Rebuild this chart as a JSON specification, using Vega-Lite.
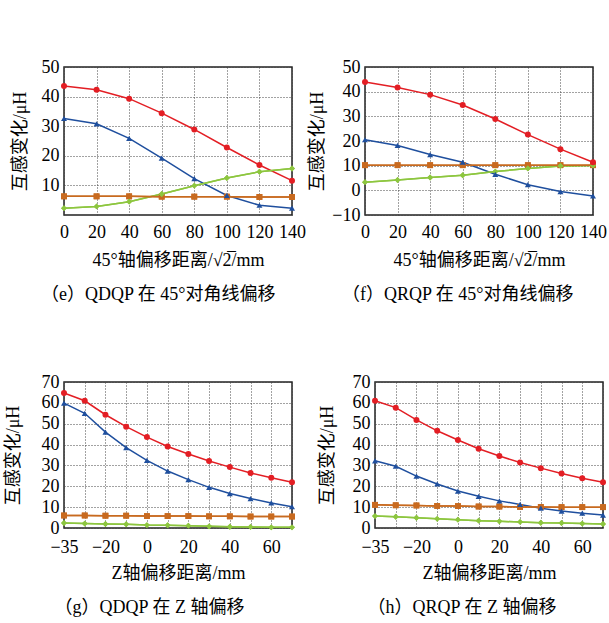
{
  "$schema": "https://vega.github.io/schema/vega-lite/v6.json",
  "background": "white",
  "padding": {"left": 3, "top": 57, "right": 0, "bottom": 0},
  "config": {
    "view": {"stroke": "#222", "strokeWidth": 1.5},
    "axis": {"labelFont": "Liberation Serif", "labelFontSize": 18, "labelColor": "#000", "titleFont": "Liberation Serif, Noto Sans CJK SC", "titleFontSize": 18, "titleFontWeight": "normal", "titleColor": "#000", "ticks": false, "domain": false, "gridColor": "#444", "gridDash": [1, 2], "gridOpacity": 1, "gridWidth": 1, "labelOverlap": false, "labelFlush": false},
    "axisX": {"labelPadding": 8, "titlePadding": 10},
    "axisY": {"labelPadding": 5},
    "title": {"font": "Liberation Serif, Noto Sans CJK SC", "fontSize": 18, "fontWeight": "normal", "color": "#000", "orient": "bottom", "anchor": "middle", "frame": "bounds", "offset": 17},
    "legend": {"columns": 3, "direction": "horizontal", "strokeColor": "#000", "fillColor": "#fff", "padding": 4, "labelFont": "Liberation Serif", "labelFontSize": 18, "labelFontStyle": "italic", "labelColor": "#000", "symbolSize": 420, "symbolStrokeWidth": 1.5, "columnPadding": 9, "rowPadding": 2, "labelOffset": 3}
  },
  "datasets": {
    "e": [
      {"series":"M₁₄","x":0,"y":43.6},{"series":"M₁₄","x":20,"y":42.3},{"series":"M₁₄","x":40,"y":39.3},{"series":"M₁₄","x":60,"y":34.4},{"series":"M₁₄","x":80,"y":28.9},{"series":"M₁₄","x":100,"y":22.8},{"series":"M₁₄","x":120,"y":16.9},{"series":"M₁₄","x":140,"y":11.6},
      {"series":"M₂₃","x":0,"y":32.6},{"series":"M₂₃","x":20,"y":30.8},{"series":"M₂₃","x":40,"y":25.9},{"series":"M₂₃","x":60,"y":19.2},{"series":"M₂₃","x":80,"y":12.3},{"series":"M₂₃","x":100,"y":6.6},{"series":"M₂₃","x":120,"y":3.3},{"series":"M₂₃","x":140,"y":2.3},
      {"series":"M₁₃","x":0,"y":2.3},{"series":"M₁₃","x":20,"y":2.9},{"series":"M₁₃","x":40,"y":4.5},{"series":"M₁₃","x":60,"y":7.1},{"series":"M₁₃","x":80,"y":9.9},{"series":"M₁₃","x":100,"y":12.5},{"series":"M₁₃","x":120,"y":14.6},{"series":"M₁₃","x":140,"y":15.7},
      {"series":"M₂₄","x":0,"y":2.3},{"series":"M₂₄","x":20,"y":2.9},{"series":"M₂₄","x":40,"y":4.5},{"series":"M₂₄","x":60,"y":7.1},{"series":"M₂₄","x":80,"y":9.9},{"series":"M₂₄","x":100,"y":12.5},{"series":"M₂₄","x":120,"y":14.6},{"series":"M₂₄","x":140,"y":15.7},
      {"series":"M₁₂","x":0,"y":6.3},{"series":"M₁₂","x":20,"y":6.3},{"series":"M₁₂","x":40,"y":6.3},{"series":"M₁₂","x":60,"y":6.2},{"series":"M₁₂","x":80,"y":6.2},{"series":"M₁₂","x":100,"y":6.2},{"series":"M₁₂","x":120,"y":6.1},{"series":"M₁₂","x":140,"y":6.1},
      {"series":"M₃₄","x":0,"y":6.3},{"series":"M₃₄","x":20,"y":6.3},{"series":"M₃₄","x":40,"y":6.3},{"series":"M₃₄","x":60,"y":6.2},{"series":"M₃₄","x":80,"y":6.2},{"series":"M₃₄","x":100,"y":6.2},{"series":"M₃₄","x":120,"y":6.1},{"series":"M₃₄","x":140,"y":6.1}
    ],
    "f": [
      {"series":"M₁₄","x":0,"y":43.9},{"series":"M₁₄","x":20,"y":41.7},{"series":"M₁₄","x":40,"y":38.8},{"series":"M₁₄","x":60,"y":34.6},{"series":"M₁₄","x":80,"y":28.9},{"series":"M₁₄","x":100,"y":22.6},{"series":"M₁₄","x":120,"y":16.7},{"series":"M₁₄","x":140,"y":11.4},
      {"series":"M₂₃","x":0,"y":20.5},{"series":"M₂₃","x":20,"y":18.2},{"series":"M₂₃","x":40,"y":14.5},{"series":"M₂₃","x":60,"y":11.4},{"series":"M₂₃","x":80,"y":6.5},{"series":"M₂₃","x":100,"y":2.3},{"series":"M₂₃","x":120,"y":-0.5},{"series":"M₂₃","x":140,"y":-2.3},
      {"series":"M₁₃","x":0,"y":3.3},{"series":"M₁₃","x":20,"y":4.2},{"series":"M₁₃","x":40,"y":5.2},{"series":"M₁₃","x":60,"y":6.1},{"series":"M₁₃","x":80,"y":7.6},{"series":"M₁₃","x":100,"y":8.9},{"series":"M₁₃","x":120,"y":9.9},{"series":"M₁₃","x":140,"y":10.1},
      {"series":"M₂₄","x":0,"y":3.3},{"series":"M₂₄","x":20,"y":4.2},{"series":"M₂₄","x":40,"y":5.2},{"series":"M₂₄","x":60,"y":6.1},{"series":"M₂₄","x":80,"y":7.6},{"series":"M₂₄","x":100,"y":8.9},{"series":"M₂₄","x":120,"y":9.9},{"series":"M₂₄","x":140,"y":10.1},
      {"series":"M₁₂","x":0,"y":10.2},{"series":"M₁₂","x":20,"y":10.2},{"series":"M₁₂","x":40,"y":10.2},{"series":"M₁₂","x":60,"y":10.2},{"series":"M₁₂","x":80,"y":10.2},{"series":"M₁₂","x":100,"y":10.2},{"series":"M₁₂","x":120,"y":10.2},{"series":"M₁₂","x":140,"y":10.2},
      {"series":"M₃₄","x":0,"y":10.2},{"series":"M₃₄","x":20,"y":10.2},{"series":"M₃₄","x":40,"y":10.2},{"series":"M₃₄","x":60,"y":10.2},{"series":"M₃₄","x":80,"y":10.2},{"series":"M₃₄","x":100,"y":10.2},{"series":"M₃₄","x":120,"y":10.2},{"series":"M₃₄","x":140,"y":10.2}
    ],
    "g": [
      {"series":"M₁₄","x":-35,"y":64.7},{"series":"M₁₄","x":-30,"y":61.0},{"series":"M₁₄","x":-20,"y":54.3},{"series":"M₁₄","x":-10,"y":48.6},{"series":"M₁₄","x":0,"y":43.6},{"series":"M₁₄","x":10,"y":39.1},{"series":"M₁₄","x":20,"y":35.5},{"series":"M₁₄","x":30,"y":32.1},{"series":"M₁₄","x":40,"y":29.2},{"series":"M₁₄","x":50,"y":26.4},{"series":"M₁₄","x":60,"y":24.1},{"series":"M₁₄","x":70,"y":21.9},
      {"series":"M₂₃","x":-35,"y":59.9},{"series":"M₂₃","x":-30,"y":55.0},{"series":"M₂₃","x":-20,"y":46.0},{"series":"M₂₃","x":-10,"y":38.5},{"series":"M₂₃","x":0,"y":32.4},{"series":"M₂₃","x":10,"y":27.3},{"series":"M₂₃","x":20,"y":23.2},{"series":"M₂₃","x":30,"y":19.5},{"series":"M₂₃","x":40,"y":16.5},{"series":"M₂₃","x":50,"y":14.1},{"series":"M₂₃","x":60,"y":12.0},{"series":"M₂₃","x":70,"y":10.2},
      {"series":"M₁₂","x":-35,"y":6.0},{"series":"M₁₂","x":-30,"y":6.0},{"series":"M₁₂","x":-20,"y":5.9},{"series":"M₁₂","x":-10,"y":5.9},{"series":"M₁₂","x":0,"y":5.7},{"series":"M₁₂","x":10,"y":5.7},{"series":"M₁₂","x":20,"y":5.7},{"series":"M₁₂","x":30,"y":5.6},{"series":"M₁₂","x":40,"y":5.6},{"series":"M₁₂","x":50,"y":5.5},{"series":"M₁₂","x":60,"y":5.5},{"series":"M₁₂","x":70,"y":5.5},
      {"series":"M₃₄","x":-35,"y":6.0},{"series":"M₃₄","x":-30,"y":6.0},{"series":"M₃₄","x":-20,"y":5.9},{"series":"M₃₄","x":-10,"y":5.9},{"series":"M₃₄","x":0,"y":5.7},{"series":"M₃₄","x":10,"y":5.7},{"series":"M₃₄","x":20,"y":5.7},{"series":"M₃₄","x":30,"y":5.6},{"series":"M₃₄","x":40,"y":5.6},{"series":"M₃₄","x":50,"y":5.5},{"series":"M₃₄","x":60,"y":5.5},{"series":"M₃₄","x":70,"y":5.5},
      {"series":"M₁₃","x":-35,"y":2.4},{"series":"M₁₃","x":-30,"y":2.1},{"series":"M₁₃","x":-20,"y":1.9},{"series":"M₁₃","x":-10,"y":1.8},{"series":"M₁₃","x":0,"y":1.4},{"series":"M₁₃","x":10,"y":1.3},{"series":"M₁₃","x":20,"y":1.1},{"series":"M₁₃","x":30,"y":0.8},{"series":"M₁₃","x":40,"y":0.6},{"series":"M₁₃","x":50,"y":0.5},{"series":"M₁₃","x":60,"y":0.3},{"series":"M₁₃","x":70,"y":0.3},
      {"series":"M₂₄","x":-35,"y":2.4},{"series":"M₂₄","x":-30,"y":2.1},{"series":"M₂₄","x":-20,"y":1.9},{"series":"M₂₄","x":-10,"y":1.8},{"series":"M₂₄","x":0,"y":1.4},{"series":"M₂₄","x":10,"y":1.3},{"series":"M₂₄","x":20,"y":1.1},{"series":"M₂₄","x":30,"y":0.8},{"series":"M₂₄","x":40,"y":0.6},{"series":"M₂₄","x":50,"y":0.5},{"series":"M₂₄","x":60,"y":0.3},{"series":"M₂₄","x":70,"y":0.3}
    ],
    "h": [
      {"series":"M₁₄","x":-35,"y":61.0},{"series":"M₁₄","x":-30,"y":57.7},{"series":"M₁₄","x":-20,"y":51.8},{"series":"M₁₄","x":-10,"y":46.6},{"series":"M₁₄","x":0,"y":42.2},{"series":"M₁₄","x":10,"y":38.0},{"series":"M₁₄","x":20,"y":34.5},{"series":"M₁₄","x":30,"y":31.4},{"series":"M₁₄","x":40,"y":28.7},{"series":"M₁₄","x":50,"y":26.1},{"series":"M₁₄","x":60,"y":23.9},{"series":"M₁₄","x":70,"y":21.9},
      {"series":"M₂₃","x":-35,"y":32.2},{"series":"M₂₃","x":-30,"y":29.6},{"series":"M₂₃","x":-20,"y":24.9},{"series":"M₂₃","x":-10,"y":21.1},{"series":"M₂₃","x":0,"y":17.7},{"series":"M₂₃","x":10,"y":15.2},{"series":"M₂₃","x":20,"y":13.0},{"series":"M₂₃","x":30,"y":11.3},{"series":"M₂₃","x":40,"y":9.5},{"series":"M₂₃","x":50,"y":8.1},{"series":"M₂₃","x":60,"y":7.1},{"series":"M₂₃","x":70,"y":6.2},
      {"series":"M₁₂","x":-35,"y":11.1},{"series":"M₁₂","x":-30,"y":10.9},{"series":"M₁₂","x":-20,"y":10.8},{"series":"M₁₂","x":-10,"y":10.6},{"series":"M₁₂","x":0,"y":10.5},{"series":"M₁₂","x":10,"y":10.3},{"series":"M₁₂","x":20,"y":10.3},{"series":"M₁₂","x":30,"y":10.1},{"series":"M₁₂","x":40,"y":10.1},{"series":"M₁₂","x":50,"y":10.0},{"series":"M₁₂","x":60,"y":10.0},{"series":"M₁₂","x":70,"y":10.0},
      {"series":"M₃₄","x":-35,"y":11.1},{"series":"M₃₄","x":-30,"y":10.9},{"series":"M₃₄","x":-20,"y":10.8},{"series":"M₃₄","x":-10,"y":10.6},{"series":"M₃₄","x":0,"y":10.5},{"series":"M₃₄","x":10,"y":10.3},{"series":"M₃₄","x":20,"y":10.3},{"series":"M₃₄","x":30,"y":10.1},{"series":"M₃₄","x":40,"y":10.1},{"series":"M₃₄","x":50,"y":10.0},{"series":"M₃₄","x":60,"y":10.0},{"series":"M₃₄","x":70,"y":10.0},
      {"series":"M₁₃","x":-35,"y":5.7},{"series":"M₁₃","x":-30,"y":5.4},{"series":"M₁₃","x":-20,"y":4.9},{"series":"M₁₃","x":-10,"y":4.4},{"series":"M₁₃","x":0,"y":4.0},{"series":"M₁₃","x":10,"y":3.5},{"series":"M₁₃","x":20,"y":3.2},{"series":"M₁₃","x":30,"y":2.9},{"series":"M₁₃","x":40,"y":2.5},{"series":"M₁₃","x":50,"y":2.4},{"series":"M₁₃","x":60,"y":2.1},{"series":"M₁₃","x":70,"y":1.9},
      {"series":"M₂₄","x":-35,"y":5.7},{"series":"M₂₄","x":-30,"y":5.4},{"series":"M₂₄","x":-20,"y":4.9},{"series":"M₂₄","x":-10,"y":4.4},{"series":"M₂₄","x":0,"y":4.0},{"series":"M₂₄","x":10,"y":3.5},{"series":"M₂₄","x":20,"y":3.2},{"series":"M₂₄","x":30,"y":2.9},{"series":"M₂₄","x":40,"y":2.5},{"series":"M₂₄","x":50,"y":2.4},{"series":"M₂₄","x":60,"y":2.1},{"series":"M₂₄","x":70,"y":1.9}
    ]
  },
  "vconcat": [
    {
      "hconcat": [
        {
          "width": 228, "height": 148,
          "data": {"name": "e"},
          "title": {"text": "（e）QDQP 在 45°对角线偏移"},
          "encoding": {
            "x": {"field": "x", "type": "quantitative", "scale": {"domain": [0, 140], "nice": false}, "axis": {"values": [0,20,40,60,80,100,120,140], "title": "45°轴偏移距离/√2̅/mm"}},
            "y": {"field": "y", "type": "quantitative", "scale": {"domain": [0, 50], "nice": false}, "axis": {"values": [10,20,30,40,50], "title": "互感变化/μH", "titlePadding": 12}}
          },
          "layer": [
            {"mark": {"type": "line", "strokeWidth": 1.5}, "encoding": {"color": {"field": "series", "type": "nominal", "scale": {"domain": ["M₁₂","M₁₃","M₁₄","M₂₃","M₂₄","M₃₄"], "range": ["#c86a1f","#8dc63f","#e31e24","#1f4f9e","#8dc63f","#c86a1f"]}, "legend": null}}},
            {"transform": [{"filter": {"field": "series", "oneOf": ["M₁₂","M₃₄"]}}], "mark": {"type": "point", "shape": "square", "filled": true, "opacity": 1, "size": 34}, "encoding": {"color": {"field": "series", "type": "nominal", "legend": null}}},
            {"transform": [{"filter": {"field": "series", "oneOf": ["M₁₃","M₂₄"]}}], "mark": {"type": "point", "shape": "diamond", "filled": true, "opacity": 1, "size": 34}, "encoding": {"color": {"field": "series", "type": "nominal", "legend": null}}},
            {"transform": [{"filter": {"field": "series", "equal": "M₁₄"}}], "mark": {"type": "point", "shape": "circle", "filled": true, "opacity": 1, "size": 36}, "encoding": {"color": {"field": "series", "type": "nominal", "legend": null}}},
            {"transform": [{"filter": {"field": "series", "equal": "M₂₃"}}], "mark": {"type": "point", "shape": "triangle-up", "filled": true, "opacity": 1, "size": 36}, "encoding": {"color": {"field": "series", "type": "nominal", "legend": null}}},
            {"mark": {"type": "point", "filled": true, "opacity": 0},
              "encoding": {
                "fill": {"field": "series", "type": "nominal", "scale": {"domain": ["M₁₂","M₁₃","M₁₄","M₂₃","M₂₄","M₃₄"], "range": ["#c86a1f","#8dc63f","#e31e24","#1f4f9e","#8dc63f","#c86a1f"]}, "legend": {"orient": "none", "legendX": 21, "legendY": -59, "title": null}},
                "stroke": {"field": "series", "type": "nominal", "scale": {"domain": ["M₁₂","M₁₃","M₁₄","M₂₃","M₂₄","M₃₄"], "range": ["#c86a1f","#8dc63f","#e31e24","#1f4f9e","#8dc63f","#c86a1f"]}, "legend": {"orient": "none", "legendX": 21, "legendY": -59, "title": null}},
                "shape": {"field": "series", "type": "nominal", "scale": {"domain": ["M₁₂","M₁₃","M₁₄","M₂₃","M₂₄","M₃₄"], "range": ["M-1,0H1M-0.24,-0.24H0.24V0.24H-0.24Z","M-1,0H1M0,-0.28L0.28,0L0,0.28L-0.28,0Z","M-1,0H1M0.26,0A0.26,0.26,0,1,1,-0.26,0A0.26,0.26,0,1,1,0.26,0Z","M-1,0H1M0,-0.32L0.3,0.2H-0.3Z","M-1,0H1M0,-0.28L0.28,0L0,0.28L-0.28,0Z","M-1,0H1M-0.24,-0.24H0.24V0.24H-0.24Z"]}, "legend": {"orient": "none", "legendX": 21, "legendY": -59, "title": null}}
              }}
          ]
        },
        {
          "width": 228, "height": 148,
          "data": {"name": "f"},
          "title": {"text": "（f）QRQP 在 45°对角线偏移"},
          "encoding": {
            "x": {"field": "x", "type": "quantitative", "scale": {"domain": [0, 140], "nice": false}, "axis": {"values": [0,20,40,60,80,100,120,140], "title": "45°轴偏移距离/√2̅/mm"}},
            "y": {"field": "y", "type": "quantitative", "scale": {"domain": [-10, 50], "nice": false}, "axis": {"values": [-10,0,10,20,30,40,50], "title": "互感变化/μH", "titlePadding": 5}}
          },
          "layer": [
            {"mark": {"type": "line", "strokeWidth": 1.5}, "encoding": {"color": {"field": "series", "type": "nominal", "scale": {"domain": ["M₁₂","M₁₃","M₁₄","M₂₃","M₂₄","M₃₄"], "range": ["#c86a1f","#8dc63f","#e31e24","#1f4f9e","#8dc63f","#c86a1f"]}, "legend": null}}},
            {"transform": [{"filter": {"field": "series", "oneOf": ["M₁₂","M₃₄"]}}], "mark": {"type": "point", "shape": "square", "filled": true, "opacity": 1, "size": 34}, "encoding": {"color": {"field": "series", "type": "nominal", "legend": null}}},
            {"transform": [{"filter": {"field": "series", "oneOf": ["M₁₃","M₂₄"]}}], "mark": {"type": "point", "shape": "diamond", "filled": true, "opacity": 1, "size": 34}, "encoding": {"color": {"field": "series", "type": "nominal", "legend": null}}},
            {"transform": [{"filter": {"field": "series", "equal": "M₁₄"}}], "mark": {"type": "point", "shape": "circle", "filled": true, "opacity": 1, "size": 36}, "encoding": {"color": {"field": "series", "type": "nominal", "legend": null}}},
            {"transform": [{"filter": {"field": "series", "equal": "M₂₃"}}], "mark": {"type": "point", "shape": "triangle-up", "filled": true, "opacity": 1, "size": 36}, "encoding": {"color": {"field": "series", "type": "nominal", "legend": null}}},
            {"mark": {"type": "point", "filled": true, "opacity": 0},
              "encoding": {
                "fill": {"field": "series", "type": "nominal", "scale": {"domain": ["M₁₂","M₁₃","M₁₄","M₂₃","M₂₄","M₃₄"], "range": ["#c86a1f","#8dc63f","#e31e24","#1f4f9e","#8dc63f","#c86a1f"]}, "legend": {"orient": "none", "legendX": 19, "legendY": -59, "title": null}},
                "stroke": {"field": "series", "type": "nominal", "scale": {"domain": ["M₁₂","M₁₃","M₁₄","M₂₃","M₂₄","M₃₄"], "range": ["#c86a1f","#8dc63f","#e31e24","#1f4f9e","#8dc63f","#c86a1f"]}, "legend": {"orient": "none", "legendX": 19, "legendY": -59, "title": null}},
                "shape": {"field": "series", "type": "nominal", "scale": {"domain": ["M₁₂","M₁₃","M₁₄","M₂₃","M₂₄","M₃₄"], "range": ["M-1,0H1M-0.24,-0.24H0.24V0.24H-0.24Z","M-1,0H1M0,-0.28L0.28,0L0,0.28L-0.28,0Z","M-1,0H1M0.26,0A0.26,0.26,0,1,1,-0.26,0A0.26,0.26,0,1,1,0.26,0Z","M-1,0H1M0,-0.32L0.3,0.2H-0.3Z","M-1,0H1M0,-0.28L0.28,0L0,0.28L-0.28,0Z","M-1,0H1M-0.24,-0.24H0.24V0.24H-0.24Z"]}, "legend": {"orient": "none", "legendX": 19, "legendY": -59, "title": null}}
              }}
          ]
        }
      ],
      "spacing": 1
    },
    {
      "hconcat": [
        {
          "width": 228, "height": 146,
          "data": {"name": "g"},
          "title": {"text": "（g）QDQP 在 Z 轴偏移"},
          "encoding": {
            "x": {"field": "x", "type": "ordinal", "sort": null, "scale": {"type": "point", "domain": [-35,-30,-20,-10,0,10,20,30,40,50,60,70], "padding": 0}, "axis": {"labelAngle": 0, "grid": true, "labelPadding": 10, "titlePadding": 8, "labelExpr": "indexof(['-30','-10','10','30','50','70'], datum.label) >= 0 ? '' : replace(datum.label, '-', '−')", "title": "Z轴偏移距离/mm"}},
            "y": {"field": "y", "type": "quantitative", "scale": {"domain": [0, 70], "nice": false}, "axis": {"values": [0,10,20,30,40,50,60,70], "title": "互感变化/μH", "titlePadding": 19}}
          },
          "layer": [
            {"mark": {"type": "line", "strokeWidth": 1.5}, "encoding": {"color": {"field": "series", "type": "nominal", "scale": {"domain": ["M₁₂","M₁₃","M₁₄","M₂₃","M₂₄","M₃₄"], "range": ["#c86a1f","#8dc63f","#e31e24","#1f4f9e","#8dc63f","#c86a1f"]}, "legend": null}}},
            {"transform": [{"filter": {"field": "series", "oneOf": ["M₁₂","M₃₄"]}}], "mark": {"type": "point", "shape": "square", "filled": true, "opacity": 1, "size": 34}, "encoding": {"color": {"field": "series", "type": "nominal", "legend": null}}},
            {"transform": [{"filter": {"field": "series", "oneOf": ["M₁₃","M₂₄"]}}], "mark": {"type": "point", "shape": "diamond", "filled": true, "opacity": 1, "size": 34}, "encoding": {"color": {"field": "series", "type": "nominal", "legend": null}}},
            {"transform": [{"filter": {"field": "series", "equal": "M₁₄"}}], "mark": {"type": "point", "shape": "circle", "filled": true, "opacity": 1, "size": 36}, "encoding": {"color": {"field": "series", "type": "nominal", "legend": null}}},
            {"transform": [{"filter": {"field": "series", "equal": "M₂₃"}}], "mark": {"type": "point", "shape": "triangle-up", "filled": true, "opacity": 1, "size": 36}, "encoding": {"color": {"field": "series", "type": "nominal", "legend": null}}},
            {"mark": {"type": "point", "filled": true, "opacity": 0},
              "encoding": {
                "fill": {"field": "series", "type": "nominal", "scale": {"domain": ["M₁₂","M₁₃","M₁₄","M₂₃","M₂₄","M₃₄"], "range": ["#c86a1f","#8dc63f","#e31e24","#1f4f9e","#8dc63f","#c86a1f"]}, "legend": {"orient": "none", "legendX": 21, "legendY": -60, "title": null}},
                "stroke": {"field": "series", "type": "nominal", "scale": {"domain": ["M₁₂","M₁₃","M₁₄","M₂₃","M₂₄","M₃₄"], "range": ["#c86a1f","#8dc63f","#e31e24","#1f4f9e","#8dc63f","#c86a1f"]}, "legend": {"orient": "none", "legendX": 21, "legendY": -60, "title": null}},
                "shape": {"field": "series", "type": "nominal", "scale": {"domain": ["M₁₂","M₁₃","M₁₄","M₂₃","M₂₄","M₃₄"], "range": ["M-1,0H1M-0.24,-0.24H0.24V0.24H-0.24Z","M-1,0H1M0,-0.28L0.28,0L0,0.28L-0.28,0Z","M-1,0H1M0.26,0A0.26,0.26,0,1,1,-0.26,0A0.26,0.26,0,1,1,0.26,0Z","M-1,0H1M0,-0.32L0.3,0.2H-0.3Z","M-1,0H1M0,-0.28L0.28,0L0,0.28L-0.28,0Z","M-1,0H1M-0.24,-0.24H0.24V0.24H-0.24Z"]}, "legend": {"orient": "none", "legendX": 21, "legendY": -60, "title": null}}
              }}
          ]
        },
        {
          "width": 228, "height": 146,
          "data": {"name": "h"},
          "title": {"text": "（h）QRQP 在 Z 轴偏移"},
          "encoding": {
            "x": {"field": "x", "type": "ordinal", "sort": null, "scale": {"type": "point", "domain": [-35,-30,-20,-10,0,10,20,30,40,50,60,70], "padding": 0}, "axis": {"labelAngle": 0, "grid": true, "labelPadding": 10, "titlePadding": 8, "labelExpr": "indexof(['-30','-10','10','30','50','70'], datum.label) >= 0 ? '' : replace(datum.label, '-', '−')", "title": "Z轴偏移距离/mm"}},
            "y": {"field": "y", "type": "quantitative", "scale": {"domain": [0, 70], "nice": false}, "axis": {"values": [0,10,20,30,40,50,60,70], "title": "互感变化/μH", "titlePadding": 16}}
          },
          "layer": [
            {"mark": {"type": "line", "strokeWidth": 1.5}, "encoding": {"color": {"field": "series", "type": "nominal", "scale": {"domain": ["M₁₂","M₁₃","M₁₄","M₂₃","M₂₄","M₃₄"], "range": ["#c86a1f","#8dc63f","#e31e24","#1f4f9e","#8dc63f","#c86a1f"]}, "legend": null}}},
            {"transform": [{"filter": {"field": "series", "oneOf": ["M₁₂","M₃₄"]}}], "mark": {"type": "point", "shape": "square", "filled": true, "opacity": 1, "size": 34}, "encoding": {"color": {"field": "series", "type": "nominal", "legend": null}}},
            {"transform": [{"filter": {"field": "series", "oneOf": ["M₁₃","M₂₄"]}}], "mark": {"type": "point", "shape": "diamond", "filled": true, "opacity": 1, "size": 34}, "encoding": {"color": {"field": "series", "type": "nominal", "legend": null}}},
            {"transform": [{"filter": {"field": "series", "equal": "M₁₄"}}], "mark": {"type": "point", "shape": "circle", "filled": true, "opacity": 1, "size": 36}, "encoding": {"color": {"field": "series", "type": "nominal", "legend": null}}},
            {"transform": [{"filter": {"field": "series", "equal": "M₂₃"}}], "mark": {"type": "point", "shape": "triangle-up", "filled": true, "opacity": 1, "size": 36}, "encoding": {"color": {"field": "series", "type": "nominal", "legend": null}}},
            {"mark": {"type": "point", "filled": true, "opacity": 0},
              "encoding": {
                "fill": {"field": "series", "type": "nominal", "scale": {"domain": ["M₁₂","M₁₃","M₁₄","M₂₃","M₂₄","M₃₄"], "range": ["#c86a1f","#8dc63f","#e31e24","#1f4f9e","#8dc63f","#c86a1f"]}, "legend": {"orient": "none", "legendX": 19, "legendY": -60, "title": null}},
                "stroke": {"field": "series", "type": "nominal", "scale": {"domain": ["M₁₂","M₁₃","M₁₄","M₂₃","M₂₄","M₃₄"], "range": ["#c86a1f","#8dc63f","#e31e24","#1f4f9e","#8dc63f","#c86a1f"]}, "legend": {"orient": "none", "legendX": 19, "legendY": -60, "title": null}},
                "shape": {"field": "series", "type": "nominal", "scale": {"domain": ["M₁₂","M₁₃","M₁₄","M₂₃","M₂₄","M₃₄"], "range": ["M-1,0H1M-0.24,-0.24H0.24V0.24H-0.24Z","M-1,0H1M0,-0.28L0.28,0L0,0.28L-0.28,0Z","M-1,0H1M0.26,0A0.26,0.26,0,1,1,-0.26,0A0.26,0.26,0,1,1,0.26,0Z","M-1,0H1M0,-0.32L0.3,0.2H-0.3Z","M-1,0H1M0,-0.28L0.28,0L0,0.28L-0.28,0Z","M-1,0H1M-0.24,-0.24H0.24V0.24H-0.24Z"]}, "legend": {"orient": "none", "legendX": 19, "legendY": -60, "title": null}}
              }}
          ]
        }
      ],
      "spacing": 21
    }
  ],
  "spacing": 67
}
